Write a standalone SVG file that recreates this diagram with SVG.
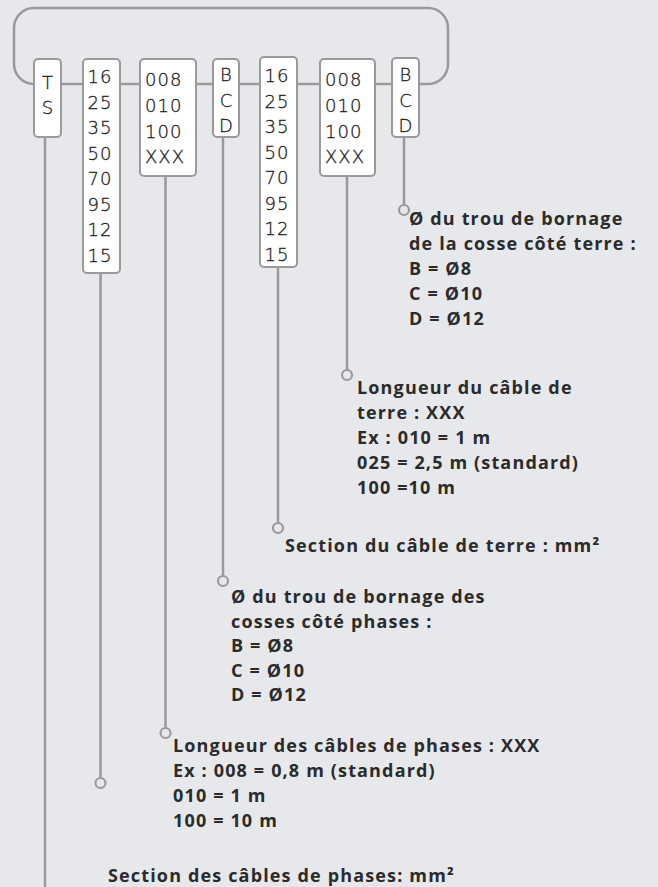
<svg xmlns="http://www.w3.org/2000/svg" width="658" height="887" viewBox="0 0 658 887">
<style>
.bg{fill:#e7e8ec}
.box{fill:#ffffff;stroke:#9a9a9a;stroke-width:2}
.wire{fill:none;stroke:#9a9a9a;stroke-width:2.5}
.dot{fill:#e7e8ec;stroke:#9a9a9a;stroke-width:2.2}
.code{font-family:"DejaVu Sans","Noto Sans",sans-serif;font-weight:200;font-size:18px;letter-spacing:1px;fill:#222;stroke:#222;stroke-width:0.3}
.lbl{font-family:"Open Sans","Liberation Sans",sans-serif;font-weight:700;font-size:18px;letter-spacing:1.15px;fill:#2b2b2b}
</style>
<rect class="bg" x="0" y="0" width="658" height="887"/>
<g id="connectors">
<path class="wire" d="M34,84 A20,20 0 0 1 14,64 V28 A20,20 0 0 1 34,8 H428 A20,20 0 0 1 448,28 V64 A20,20 0 0 1 428,84 H419"/>
<path class="wire" d="M61,84 H83 M120,84 H140 M196,84 H213 M239,84 H260 M297,84 H320 M375,84 H392"/>
<path class="wire" d="M45,137 V887"/>
<path class="wire" d="M100.5,273 V778"/>
<path class="wire" d="M165.5,176 V728"/>
<path class="wire" d="M223,137 V576"/>
<path class="wire" d="M278,267 V523"/>
<path class="wire" d="M347,176 V370"/>
<path class="wire" d="M404,137 V205"/>
<circle class="dot" cx="100.5" cy="783" r="5"/>
<circle class="dot" cx="165.5" cy="733" r="5"/>
<circle class="dot" cx="223" cy="581" r="5"/>
<circle class="dot" cx="278" cy="528" r="5"/>
<circle class="dot" cx="347" cy="375" r="5"/>
<circle class="dot" cx="404" cy="210" r="5"/>
</g>
<g id="box-ts">
<rect class="box" x="34" y="59" width="27" height="78" rx="4"/>
<text class="code" text-anchor="middle"><tspan x="48" y="89">T</tspan><tspan x="48" y="114">S</tspan></text>
</g>
<g id="box-section-phases">
<rect class="box" x="83" y="59" width="37" height="214" rx="4"/>
<text class="code"><tspan x="87.5" y="83">16</tspan><tspan x="87.5" y="108.5">25</tspan><tspan x="87.5" y="134">35</tspan><tspan x="87.5" y="159.5">50</tspan><tspan x="87.5" y="185">70</tspan><tspan x="87.5" y="210.5">95</tspan><tspan x="87.5" y="236">12</tspan><tspan x="87.5" y="261.5">15</tspan></text>
</g>
<g id="box-longueur-phases">
<rect class="box" x="140" y="59" width="56" height="117" rx="4"/>
<text class="code"><tspan x="145" y="86">008</tspan><tspan x="145" y="112">010</tspan><tspan x="145" y="137.5">100</tspan><tspan x="145" y="163">XXX</tspan></text>
</g>
<g id="box-trou-phases">
<rect class="box" x="213" y="59" width="26" height="78" rx="4"/>
<text class="code" text-anchor="middle"><tspan x="226.5" y="81">B</tspan><tspan x="226.5" y="106.5">C</tspan><tspan x="226.5" y="132">D</tspan></text>
</g>
<g id="box-section-terre">
<rect class="box" x="260" y="57" width="37" height="210" rx="4"/>
<text class="code"><tspan x="264.5" y="82">16</tspan><tspan x="264.5" y="107.5">25</tspan><tspan x="264.5" y="133">35</tspan><tspan x="264.5" y="158.5">50</tspan><tspan x="264.5" y="184">70</tspan><tspan x="264.5" y="209.5">95</tspan><tspan x="264.5" y="235">12</tspan><tspan x="264.5" y="260.5">15</tspan></text>
</g>
<g id="box-longueur-terre">
<rect class="box" x="320" y="59" width="55" height="117" rx="4"/>
<text class="code"><tspan x="325" y="86">008</tspan><tspan x="325" y="112">010</tspan><tspan x="325" y="137.5">100</tspan><tspan x="325" y="163">XXX</tspan></text>
</g>
<g id="box-trou-terre">
<rect class="box" x="392" y="58" width="27" height="79" rx="4"/>
<text class="code" text-anchor="middle"><tspan x="406" y="81">B</tspan><tspan x="406" y="106.5">C</tspan><tspan x="406" y="132">D</tspan></text>
</g>
<g id="label-trou-terre">
<text class="lbl"><tspan x="409" y="225">Ø du trou de bornage</tspan><tspan x="409" y="250">de la cosse côté terre :</tspan><tspan x="409" y="275">B = Ø8</tspan><tspan x="409" y="300">C = Ø10</tspan><tspan x="409" y="325">D = Ø12</tspan></text>
</g>
<g id="label-longueur-terre">
<text class="lbl"><tspan x="357" y="394">Longueur du câble de</tspan><tspan x="357" y="419">terre : XXX</tspan><tspan x="357" y="444">Ex : 010 = 1 m</tspan><tspan x="357" y="469">025 = 2,5 m (standard)</tspan><tspan x="357" y="494">100 =10 m</tspan></text>
</g>
<g id="label-section-terre">
<text class="lbl" x="285" y="552">Section du câble de terre : mm²</text>
</g>
<g id="label-trou-phases">
<text class="lbl"><tspan x="231" y="603">Ø du trou de bornage des</tspan><tspan x="231" y="628">cosses côté phases :</tspan><tspan x="231" y="652">B = Ø8</tspan><tspan x="231" y="677">C = Ø10</tspan><tspan x="231" y="701">D = Ø12</tspan></text>
</g>
<g id="label-longueur-phases">
<text class="lbl"><tspan x="173" y="752">Longueur des câbles de phases : XXX</tspan><tspan x="173" y="777">Ex : 008 = 0,8 m (standard)</tspan><tspan x="173" y="802">010 = 1 m</tspan><tspan x="173" y="827">100 = 10 m</tspan></text>
</g>
<g id="label-section-phases">
<text class="lbl" x="108" y="882">Section des câbles de phases: mm²</text>
</g>
</svg>
